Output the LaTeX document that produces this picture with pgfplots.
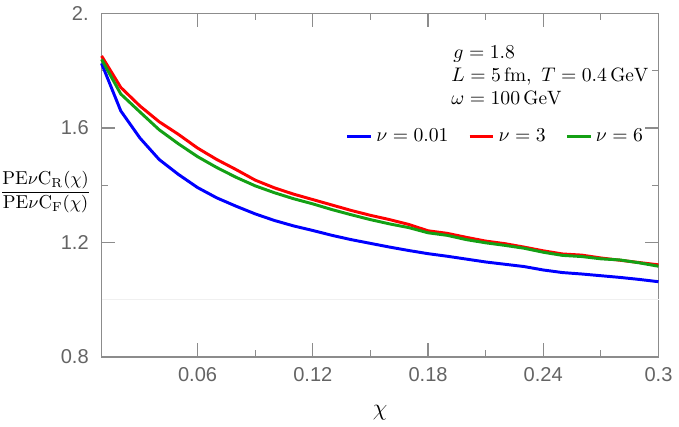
\documentclass[border=0pt]{standalone}
\usepackage{fontspec}
\usepackage{pgfplots}
\pgfplotsset{compat=1.18}
\newfontfamily\arialfont{Liberation Sans}
\definecolor{framegray}{RGB}{140,140,140}
\definecolor{labgray}{RGB}{100,100,100}
\definecolor{mgreen}{RGB}{20,160,20}

\begin{document}
\begin{tikzpicture}
\begin{axis}[
    scale only axis,
    width=283pt, height=174.5pt,
    xmin=0.01, xmax=0.3,
    ymin=0.8, ymax=2.0,
    clip=false,
    axis line style={framegray, line width=0.6pt},
    tick style={framegray, line width=0.6pt},
    tick align=inside,
    major tick length=7pt,
    minor tick length=3.5pt,
    xtick={0.06,0.12,0.18,0.24,0.3},
    xticklabels={0.06,0.12,0.18,0.24,0.3},
    minor x tick num=1,
    ytick={0.8,1.2,1.6,2.0},
    yticklabels={0.8,1.2,1.6,2.},
    minor y tick num=1,
    /pgf/number format/assume math mode=true,
    tick label style={font=\arialfont\fontsize{10.2}{12}\selectfont, text=labgray},
    xticklabel style={yshift=-2pt},
    yticklabel style={xshift=-3pt},
    xlabel={$\chi$},
    xlabel style={at={(axis description cs:0.5,-0.162)}, anchor=center, font=\fontsize{12}{14}\selectfont},
    legend columns=3,
    legend style={draw=none, fill=none, inner sep=0pt, outer sep=0pt,
        at={(axis cs:0.1372,1.57)}, anchor=west,
        font=\fontsize{10}{12}\selectfont,
        /tikz/every even column/.append style={column sep=8pt}},
    legend image code/.code={\draw[#1] (0pt,0pt) -- (12pt,0pt);},
]
\addplot[gray!12, line width=0.6pt, forget plot] coordinates {(0.01,1.0) (0.3,1.0)};

\addplot[blue, line width=1.5pt, line join=round] coordinates {
(0.01,1.826) (0.02,1.660) (0.03,1.565) (0.04,1.490) (0.05,1.438) (0.06,1.392)
(0.07,1.356) (0.08,1.327) (0.09,1.300) (0.10,1.277) (0.11,1.258) (0.12,1.242)
(0.13,1.225) (0.14,1.210) (0.15,1.197) (0.16,1.184) (0.17,1.172) (0.18,1.161)
(0.19,1.152) (0.20,1.142) (0.21,1.132) (0.22,1.124) (0.23,1.116) (0.24,1.104)
(0.25,1.095) (0.26,1.090) (0.27,1.084) (0.28,1.078) (0.29,1.071) (0.30,1.063)
};
\addlegendentry{$\nu=0.01$}

\addplot[red, line width=1.5pt, line join=round] coordinates {
(0.01,1.852) (0.02,1.742) (0.03,1.677) (0.04,1.622) (0.05,1.578) (0.06,1.530)
(0.07,1.490) (0.08,1.455) (0.09,1.418) (0.10,1.391) (0.11,1.369) (0.12,1.350)
(0.13,1.331) (0.14,1.312) (0.15,1.295) (0.16,1.280) (0.17,1.263) (0.18,1.241)
(0.19,1.232) (0.20,1.218) (0.21,1.205) (0.22,1.196) (0.23,1.184) (0.24,1.171)
(0.25,1.160) (0.26,1.156) (0.27,1.146) (0.28,1.138) (0.29,1.130) (0.30,1.122)
};
\addlegendentry{$\nu=3$}

\addplot[mgreen, line width=1.5pt, line join=round] coordinates {
(0.01,1.840) (0.02,1.719) (0.03,1.656) (0.04,1.594) (0.05,1.545) (0.06,1.500)
(0.07,1.462) (0.08,1.428) (0.09,1.398) (0.10,1.374) (0.11,1.353) (0.12,1.335)
(0.13,1.315) (0.14,1.297) (0.15,1.280) (0.16,1.265) (0.17,1.252) (0.18,1.234)
(0.19,1.225) (0.20,1.210) (0.21,1.199) (0.22,1.190) (0.23,1.180) (0.24,1.166)
(0.25,1.155) (0.26,1.151) (0.27,1.143) (0.28,1.139) (0.29,1.129) (0.30,1.117)
};
\addlegendentry{$\nu=6$}

\node[anchor=west, align=left, inner sep=0pt, font=\fontsize{9.8}{11.75}\selectfont]
  at (axis cs:0.192,1.785) {%
  \hspace*{1pt}$g=1.8$\\
  $L=5\,\mathrm{fm},\ T=0.4\,\mathrm{GeV}$\\
  $\omega=100\,\mathrm{GeV}$};

% y label: horizontal fraction set between the 1.2 and 1.6 tick labels
\node[anchor=east, inner sep=0pt, font=\fontsize{9.5}{12}\selectfont]
  at (rel axis cs:-0.018,0.48)
  {$\displaystyle\frac{\mathrm{PE}\nu\mathrm{C}_{\mathrm{R}}(\chi)}{\mathrm{PE}\nu\mathrm{C}_{\mathrm{F}}(\chi)}$};
\end{axis}
\end{tikzpicture}
\end{document}
